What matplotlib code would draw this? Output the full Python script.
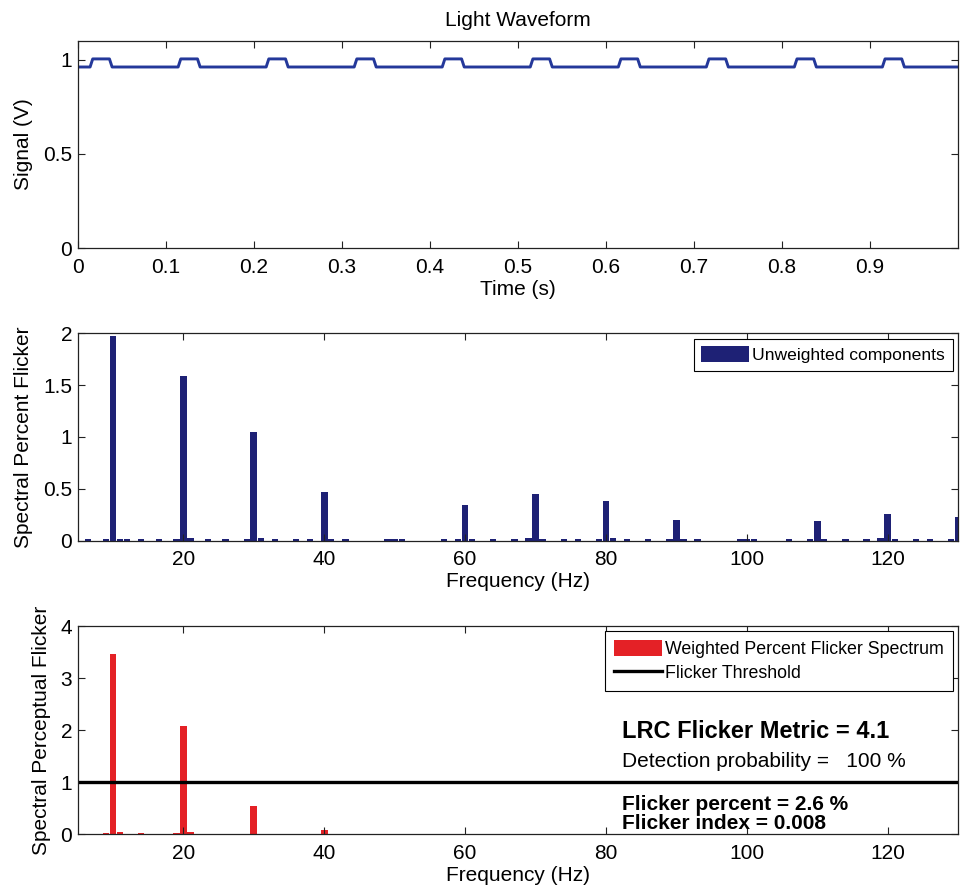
import numpy as np
import matplotlib
matplotlib.use("Agg")
import matplotlib.pyplot as plt

plt.rcParams['font.family'] = ['Liberation Sans', 'DejaVu Sans']

# light waveform: one short pulse per 100 ms
pulse_on = [0.014, 0.114, 0.214, 0.314, 0.414, 0.514, 0.614, 0.714, 0.814, 0.914]
pulse_off = [0.036, 0.136, 0.236, 0.336, 0.436, 0.536, 0.636, 0.736, 0.836, 0.936]
level_low = 0.962
level_high = 1.005

# unweighted spectrum (main harmonics)
freq_main = [10, 20, 30, 40, 50, 60, 70, 80, 90, 100, 110, 120, 130]
unweighted_main = [1.97, 1.59, 1.05, 0.47, 0.012, 0.34, 0.45, 0.38, 0.20, 0.012, 0.19, 0.26, 0.23]
# small leakage components
freq_minor = [6.5, 9, 11, 12, 14, 16.5, 19, 21, 23.5, 26, 29, 31, 33, 36, 38, 41, 43,
              49, 51, 57, 59, 61, 64, 67, 69, 71, 74, 76, 79, 81, 83, 86, 89, 91, 93,
              99, 101, 106, 109, 111, 114, 117, 119, 121, 124, 126, 129]
unweighted_minor = [0.012, 0.015, 0.015, 0.012, 0.012, 0.012, 0.015, 0.025, 0.012, 0.012, 0.012, 0.025,
                    0.012, 0.012, 0.012, 0.015, 0.012, 0.015, 0.015, 0.012, 0.012, 0.015, 0.012,
                    0.012, 0.025, 0.012, 0.012, 0.012, 0.012, 0.025, 0.012, 0.012, 0.012, 0.015,
                    0.012, 0.012, 0.012, 0.012, 0.012, 0.012, 0.012, 0.012, 0.025, 0.015,
                    0.012, 0.012, 0.012]

# weighted (perceptual) spectrum
freq_weighted = [9, 10, 11, 14, 19, 20, 21, 30, 40]
weighted = [0.025, 3.47, 0.03, 0.025, 0.025, 2.08, 0.03, 0.54, 0.077]
threshold = 1.0

metric = 4.1
detection = 100
flicker_percent = 2.6
flicker_index = 0.008

blue_line = '#24389a'
navy = '#1e2175'
red = '#e42126'
axis_col = '#222222'
fs = 15

t = [0.0]
v = [level_low]
ramp = 0.003
for on, off in zip(pulse_on, pulse_off):
    t += [on, on + ramp, off, off + ramp]
    v += [level_low, level_high, level_high, level_low]
t.append(1.0)
v.append(level_low)

fig = plt.figure(figsize=(9.6, 8.9), dpi=100)
ax1 = fig.add_axes([0.081, 0.7213, 0.917, 0.2326])
ax2 = fig.add_axes([0.081, 0.3925, 0.917, 0.2330])
ax3 = fig.add_axes([0.081, 0.0629, 0.917, 0.2337])

for ax in (ax1, ax2, ax3):
    ax.tick_params(direction='in', length=5, width=0.8, top=True, right=True,
                   labelsize=fs, pad=4, colors=axis_col, labelcolor='black')
    ax.tick_params(axis='x', pad=7)
    for s in ax.spines.values():
        s.set_color(axis_col)
        s.set_linewidth(0.9)

# top: waveform
ax1.plot(t, v, color=blue_line, lw=2.1)
ax1.set_xlim(0, 1)
ax1.set_ylim(0, 1.1)
ax1.set_xticks([0, 0.1, 0.2, 0.3, 0.4, 0.5, 0.6, 0.7, 0.8, 0.9])
ax1.set_xticklabels(['0', '0.1', '0.2', '0.3', '0.4', '0.5', '0.6', '0.7', '0.8', '0.9'])
ax1.set_yticks([0, 0.5, 1])
ax1.set_yticklabels(['0', '0.5', '1'])
ax1.set_title('Light Waveform', fontsize=fs, pad=11)
ax1.set_xlabel('Time (s)', fontsize=fs, labelpad=2)
ax1.set_ylabel('Signal (V)', fontsize=fs, labelpad=7)

# middle: unweighted spectrum
ax2.bar(freq_minor, unweighted_minor, width=0.9, color=navy, edgecolor='none')
ax2.bar(freq_main, unweighted_main, width=0.95, color=navy, edgecolor='none',
        label='Unweighted components')
ax2.set_xlim(5, 130)
ax2.set_ylim(0, 2)
ax2.set_xticks([20, 40, 60, 80, 100, 120])
ax2.set_yticks([0, 0.5, 1, 1.5, 2])
ax2.set_yticklabels(['0', '0.5', '1', '1.5', '2'])
ax2.set_xlabel('Frequency (Hz)', fontsize=fs, labelpad=2)
ax2.set_ylabel('Spectral Percent Flicker', fontsize=fs, labelpad=7)
leg = ax2.legend(loc='upper right', fontsize=12.6, fancybox=False, framealpha=1,
                 edgecolor='black', borderaxespad=0.3, borderpad=0.45,
                 handlelength=2.7, handleheight=1.0, handletextpad=0.2)
leg.get_frame().set_linewidth(0.8)

# bottom: weighted spectrum
bars = ax3.bar(freq_weighted, weighted, width=0.95, color=red, edgecolor='none',
               label='Weighted Percent Flicker Spectrum')
line = ax3.axhline(threshold, color='black', lw=2.4, label='Flicker Threshold')
ax3.set_xlim(5, 130)
ax3.set_ylim(0, 4)
ax3.set_xticks([20, 40, 60, 80, 100, 120])
ax3.set_yticks([0, 1, 2, 3, 4])
ax3.set_xlabel('Frequency (Hz)', fontsize=fs, labelpad=2)
ax3.set_ylabel('Spectral Perceptual Flicker', fontsize=fs, labelpad=7)
leg3 = ax3.legend([bars, line], ['Weighted Percent Flicker Spectrum', 'Flicker Threshold'],
                  loc='upper right', fontsize=12.8, fancybox=False, framealpha=1,
                  edgecolor='black', borderaxespad=0.3, borderpad=0.5,
                  handlelength=2.7, handleheight=1.0, handletextpad=0.2,
                  labelspacing=0.3)
leg3.get_frame().set_linewidth(0.8)

ax3.text(0.618, 0.492, f'LRC Flicker Metric = {metric}', transform=ax3.transAxes,
         fontsize=17, fontweight='bold', va='center')
ax3.text(0.618, 0.347, f'Detection probability =   {detection} %', transform=ax3.transAxes,
         fontsize=fs, va='center')
ax3.text(0.618, 0.143, f'Flicker percent = {flicker_percent} %', transform=ax3.transAxes,
         fontsize=fs, fontweight='bold', va='center')
ax3.text(0.618, 0.051, f'Flicker index = {flicker_index}', transform=ax3.transAxes,
         fontsize=fs, fontweight='bold', va='center')

fig.savefig('out.png', dpi=100)
